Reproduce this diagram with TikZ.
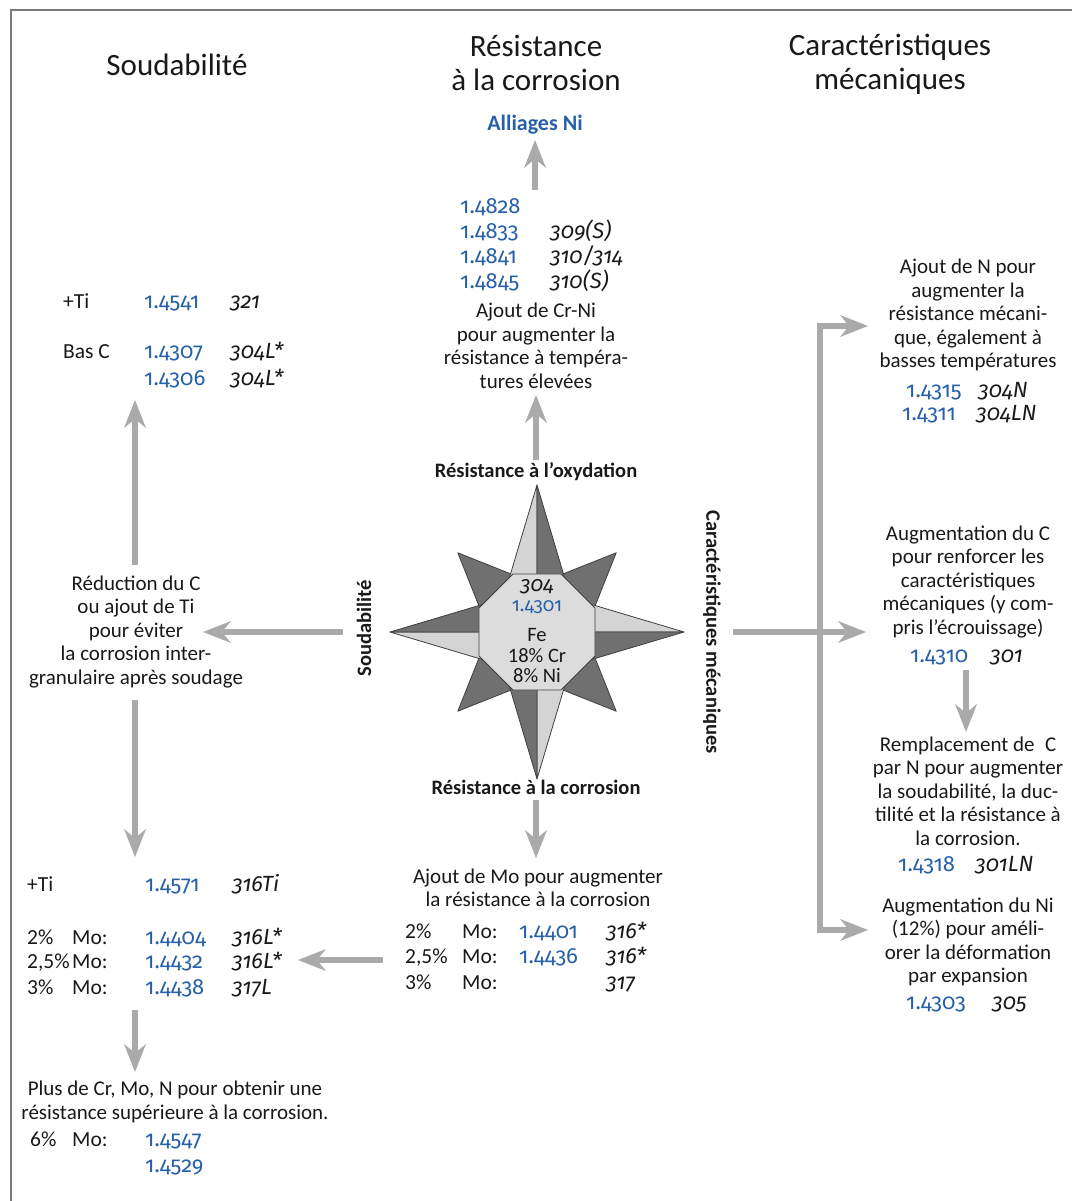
\documentclass[tikz,border=0pt]{standalone}
\usepackage{fontspec}
\setmainfont{Carlito}
\newfontfamily\numf{Fira Sans}[Numbers=OldStyle]
\usetikzlibrary{arrows.meta}
\definecolor{nblue}{RGB}{38,96,168}
\definecolor{agray}{RGB}{170,170,170}
\definecolor{fgray}{RGB}{120,120,120}
\definecolor{tcol}{RGB}{25,25,25}
\definecolor{slight}{RGB}{212,212,212}
\definecolor{sdark}{RGB}{112,112,112}
\definecolor{ofill}{RGB}{220,220,220}
\tikzset{
 x=1pt, y=-1pt,
 txt/.style={font=\fontsize{21}{23.5}\selectfont, align=center, inner sep=0pt, text=tcol},
 hdr/.style={font=\fontsize{31}{34}\selectfont, align=center, inner sep=0pt, text=tcol},
 lbl/.style={font=\bfseries\fontsize{20.5}{22}\selectfont, inner sep=0pt, text=tcol},
 bl/.style={font=\numf\fontsize{22}{22}\selectfont, text=nblue, anchor=base west, inner sep=0pt},
 it/.style={font=\numf\itshape\fontsize{22}{22}\selectfont, anchor=base west, inner sep=0pt, text=tcol},
 tx/.style={font=\fontsize{21.5}{22}\selectfont, anchor=base west, inner sep=0pt, text=tcol},
 arr/.style={draw=agray, line width=6pt, -{Stealth[fill=agray, length=28pt, width=22pt, inset=9pt, line width=0pt]}},
 arrb/.style={draw=agray, line width=6pt, {Stealth[fill=agray, length=28pt, width=22pt, inset=9pt, line width=0pt]}-{Stealth[fill=agray, length=28pt, width=22pt, inset=9pt, line width=0pt]}},
 star/.style={draw=black!75, line width=0.8pt, line join=round},
}
\begin{document}
\begin{tikzpicture}
\useasboundingbox (0,0) rectangle (1072,1201);
% frame
\draw[fgray, line width=2.5pt] (11,1201) -- (11,10) -- (1072,10);

% headers
\node[hdr] (h1) at (177,65) {Soudabilité};
\node[hdr] (h2) at (536,63) {Résistance\\à la corrosion};
\node[hdr] (h3) at (890,64) {Caractéristiques\\mécaniques};

% compass star
\begin{scope}[shift={(537,632)}, yscale=-1]
 \foreach \d in {45,135,225,315}
  \filldraw[star, fill=sdark] (\d:112) -- (\d+45:47.7) -- (0,0) -- (\d-45:47.7) -- cycle;
 \foreach \a in {0,90,180,270} {
  \filldraw[star, fill=slight] (0,0) -- (\a:147) -- (\a+45:47.7) -- cycle;
  \filldraw[star, fill=sdark] (0,0) -- (\a:147) -- (\a-45:47.7) -- cycle;
 }
 \filldraw[star, fill=ofill] (22.5:62.8) \foreach \k in {1,...,7} { -- (22.5+45*\k:62.8) } -- cycle;
\end{scope}
\node[font=\numf\itshape\fontsize{21}{20}\selectfont, inner sep=0pt, text=tcol] (c304) at (537,587) {304};
\node[font=\numf\fontsize{19}{20}\selectfont, inner sep=0pt, text=nblue] (c4301) at (537,607) {1.4301};
\node[font=\fontsize{20.5}{20.5}\selectfont, align=center, inner sep=0pt, text=tcol] (cfe) at (537,656) {Fe\\18\% Cr\\8\% Ni};

% star labels
\node[lbl] (oxy) at (536,472) {Résistance à l’oxydation};
\node[lbl] (corr) at (536,787) {Résistance à la corrosion};
\node[lbl, rotate=90] (soud) at (364,628) {Soudabilité};
\node[lbl, rotate=-90] (carm) at (712,632) {Caractéristiques mécaniques};

% centre column top
\node[font=\bfseries\fontsize{22}{22}\selectfont, text=nblue, inner sep=0pt] (alli) at (535,125) {Alliages Ni};
\node[bl] (n4828) at (460,213) {1.4828};
\node[bl] (n4833) at (460,238) {1.4833};
\node[it] (i309) at (550,238) {309(S)};
\node[bl] (n4841) at (460,263) {1.4841};
\node[it] (i310) at (550,263) {310/314};
\node[bl] (n4845) at (460,288) {1.4845};
\node[it] (i310s) at (550,288) {310(S)};
\node[txt] (crni) at (536,346) {Ajout de Cr-Ni\\pour augmenter la\\résistance à tempéra-\\tures élevées};

% centre column bottom
\node[txt] (mo) at (538,888) {Ajout de Mo pour augmenter\\la résistance à la corrosion};
\node[tx] (m1a) at (405,938) {2\%};
\node[tx] (m1b) at (462,938) {Mo:};
\node[bl] (n4401) at (519,938) {1.4401};
\node[it] (i316a) at (606,938) {316*};
\node[tx] (m2a) at (405,963) {2,5\%};
\node[tx] (m2b) at (462,963) {Mo:};
\node[bl] (n4436) at (519,963) {1.4436};
\node[it] (i316b) at (606,963) {316*};
\node[tx] (m3a) at (405,989) {3\%};
\node[tx] (m3b) at (462,989) {Mo:};
\node[it] (i317) at (606,989) {317};

% left column top
\node[tx] (ti1) at (63,308) {+Ti};
\node[bl] (n4541) at (144,308) {1.4541};
\node[it] (i321) at (230,308) {321};
\node[tx] (basc) at (63,358) {Bas C};
\node[bl] (n4307) at (144,358) {1.4307};
\node[it] (i304la) at (230,358) {304L*};
\node[bl] (n4306) at (144,385) {1.4306};
\node[it] (i304lb) at (230,385) {304L*};
\node[txt] (red) at (136,632) {Réduction du C\\ou ajout de Ti\\pour éviter\\la corrosion inter-\\granulaire après soudage};

% left column bottom
\node[tx] (ti2) at (27,891) {+Ti};
\node[bl] (n4571) at (145,891) {1.4571};
\node[it] (i316ti) at (232,891) {316Ti};
\node[tx] (l1a) at (27,944) {2\%};
\node[tx] (l1b) at (72,944) {Mo:};
\node[bl] (n4404) at (145,944) {1.4404};
\node[it] (i316la) at (232,944) {316L*};
\node[tx] (l2a) at (27,968) {2,5\%};
\node[tx] (l2b) at (72,968) {Mo:};
\node[bl] (n4432) at (145,968) {1.4432};
\node[it] (i316lb) at (232,968) {316L*};
\node[tx] (l3a) at (27,994) {3\%};
\node[tx] (l3b) at (72,994) {Mo:};
\node[bl] (n4438) at (145,994) {1.4438};
\node[it] (i317l) at (232,994) {317L};
\node[txt] (plus) at (175,1102) {Plus de Cr, Mo, N pour obtenir une\\résistance supérieure à la corrosion.};
\node[tx] (l6a) at (30,1146) {6\%};
\node[tx] (l6b) at (72,1146) {Mo:};
\node[bl] (n4547) at (145,1146) {1.4547};
\node[bl] (n4529) at (145,1172) {1.4529};

% right column
\node[txt] (addn) at (968,315) {Ajout de N pour\\augmenter la\\résistance mécani-\\que, également à\\basses températures};
\node[bl] (n4315) at (906,397) {1.4315};
\node[it] (i304n) at (978,397) {304N};
\node[bl] (n4311) at (902,420) {1.4311};
\node[it] (i304ln) at (976,420) {304LN};
\node[txt] (augc) at (968,582) {Augmentation du C\\pour renforcer les\\caractéristiques\\mécaniques (y com-\\pris l’écrouissage)};
\node[bl] (n4310) at (910,662) {1.4310};
\node[it] (i301) at (990,662) {301};
\node[txt] (remp) at (968,791) {Remplacement de\enspace C\\par N pour augmenter\\la soudabilité, la duc-\\tilité et la résistance à\\la corrosion.};
\node[bl] (n4318) at (898,871) {1.4318};
\node[it] (i301ln) at (975,871) {301LN};
\node[txt] (augni) at (968,942) {Augmentation du Ni\\(12\%) pour améli-\\orer la déformation\\par expansion};
\node[bl] (n4303) at (906,1009) {1.4303};
\node[it] (i305) at (992,1009) {305};

% connector end points
\coordinate (u1s) at (535,190); \coordinate (u1e) at (535,140);
\coordinate (u2s) at (536,460); \coordinate (u2e) at (536,395);
\coordinate (d1s) at (536,800); \coordinate (d1e) at (536,858);
\coordinate (l1s) at (343,632); \coordinate (l1e) at (203,632);
\coordinate (u3s) at (135,565); \coordinate (u3e) at (135,400);
\coordinate (d2s) at (135,700); \coordinate (d2e) at (135,857);
\coordinate (d3s) at (135,1010); \coordinate (d3e) at (135,1072);
\coordinate (l2s) at (383,960); \coordinate (l2e) at (298,960);
\coordinate (r1s) at (733,632); \coordinate (r1e) at (866,632);
\coordinate (ctop) at (820,326); \coordinate (cbot) at (820,930);
\coordinate (r2e) at (868,326); \coordinate (r3e) at (868,930);
\coordinate (d4s) at (966,670); \coordinate (d4e) at (966,732);

% connectors
\draw[arr] (u1s) -- (u1e);
\draw[arr] (u2s) -- (u2e);
\draw[arr] (d1s) -- (d1e);
\draw[arr] (l1s) -- (l1e);
\draw[arr] (u3s) -- (u3e);
\draw[arr] (d2s) -- (d2e);
\draw[arr] (d3s) -- (d3e);
\draw[arr] (l2s) -- (l2e);
\draw[arr] (r1s) -- (r1e);
\draw[arrb, line join=miter] (r2e) -- (ctop) -- (cbot) -- (r3e);
\draw[arr] (d4s) -- (d4e);
\end{tikzpicture}
\end{document}
